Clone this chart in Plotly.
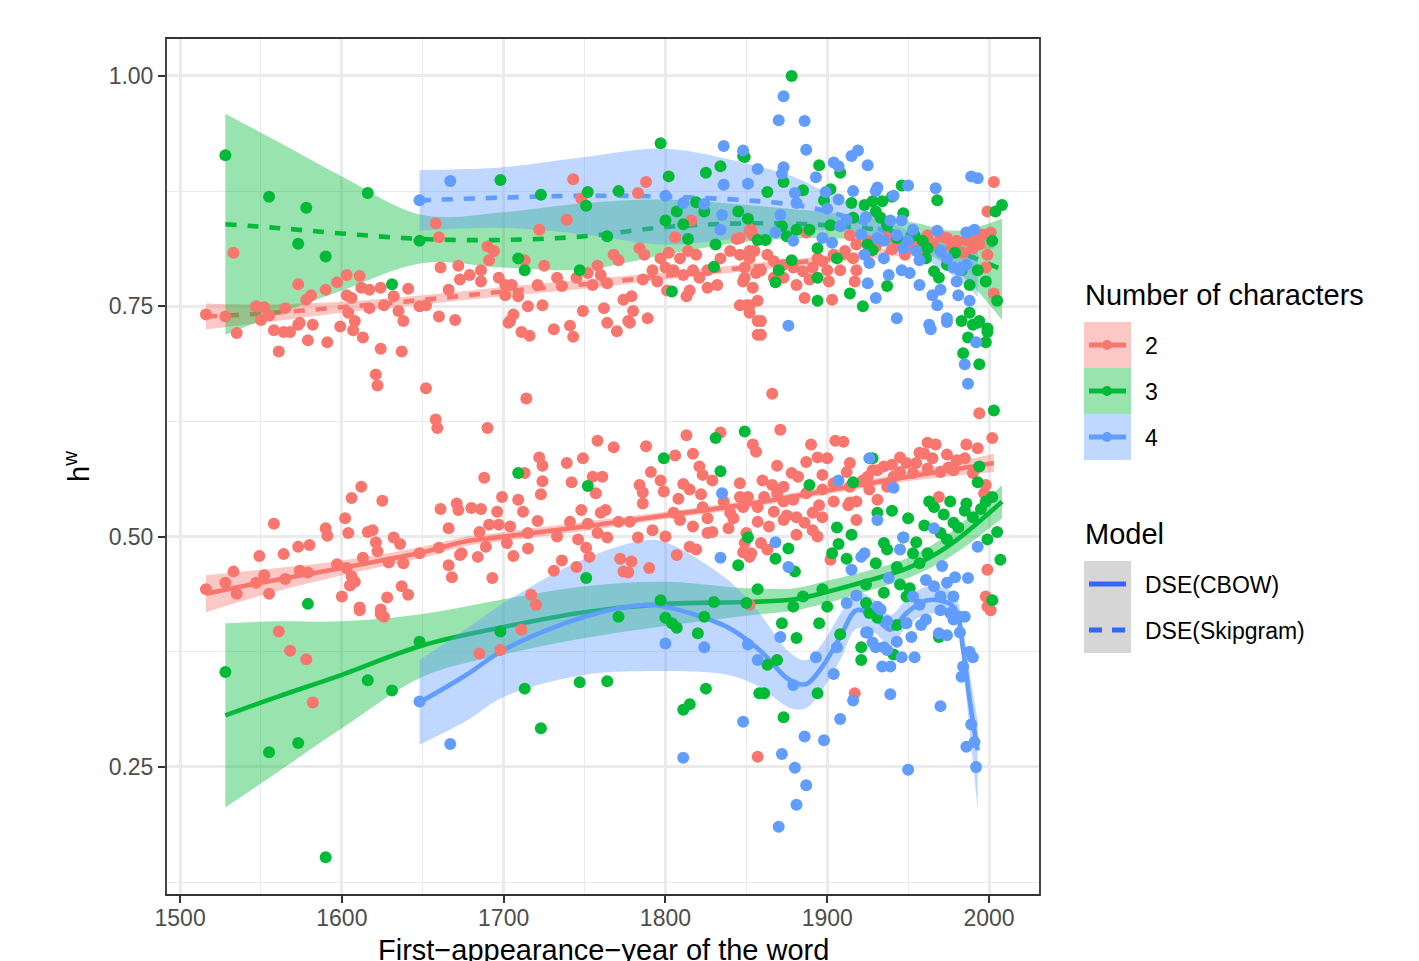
import plotly.graph_objects as go

# ---------------- data ----------------
# colour groups: Number of characters 2 (red), 3 (green), 4 (blue)
# points belonging to the DSE(Skipgram) cloud and DSE(CBOW) cloud

red_skip_year = [
    1516,1528,1533,1535,1547,1552,1550,1555,1558,1561,
    1564,1565,1568,1573,1573,1574,1578,1579,1581,1582,
    1590,1591,1597,1599,1603,1603,1604,1606,1607,1608,
    1611,1612,1613,1617,1617,1621,1622,1624,1624,1626,
    1632,1635,1637,1638,1641,1648,1652,1652,1658,1658,
    1659,1660,1660,1661,1666,1670,1672,1673,1679,1686,
    1686,1690,1691,1694,1697,1701,1701,1703,1704,1705,
    1706,1709,1711,1713,1715,1716,1721,1722,1724,1725,
    1731,1733,1736,1739,1741,1743,1743,1745,1748,1749,
    1752,1755,1758,1760,1762,1764,1764,1768,1770,1771,
    1774,1777,1778,1779,1780,1783,1784,1786,1787,1788,
    1789,1792,1795,1797,1800,1801,1802,1805,1806,1809,
    1811,1813,1814,1815,1816,1817,1819,1821,1826,1826,
    1832,1834,1840,1844,1846,1846,1846,1848,1849,1849,
    1850,1852,1852,1852,1852,1852,1853,1854,1854,1855,
    1856,1857,1857,1857,1859,1859,1859,1863,1866,1867,
    1867,1873,1873,1879,1881,1885,1886,1887,1889,1891,
    1894,1897,1900,1901,1903,1904,1908,1911,1914,1916,
    1917,1918,1918,1925,1930,1937,1940,1943,1948,1952,
    1957,1962,1965,1970,1974,1977,1980,1980,1984,1986,
    1990,1993,1994,1998,1999,1999,2001,2003,2003,1996,
    1988]
red_skip_h = [
    0.741,0.739,0.808,0.721,0.750,0.749,0.735,0.740,0.724,0.701,
    0.722,0.748,0.722,0.774,0.730,0.732,0.757,0.713,0.762,0.730,
    0.768,0.711,0.776,0.728,0.784,0.762,0.743,0.759,0.724,0.734,
    0.783,0.770,0.716,0.768,0.748,0.676,0.664,0.770,0.704,0.751,
    0.761,0.745,0.701,0.734,0.769,0.750,0.751,0.661,0.840,0.627,
    0.618,0.825,0.739,0.792,0.768,0.735,0.794,0.779,0.784,0.777,
    0.789,0.815,0.800,0.810,0.781,0.773,0.762,0.732,0.734,0.773,
    0.741,0.761,0.722,0.800,0.750,0.718,0.773,0.833,0.751,0.794,
    0.725,0.781,0.772,0.844,0.729,0.888,0.717,0.781,0.867,0.745,
    0.786,0.773,0.794,0.784,0.748,0.775,0.732,0.806,0.723,0.800,
    0.757,0.734,0.732,0.761,0.745,0.873,0.813,0.779,0.806,0.885,
    0.737,0.789,0.777,0.802,0.792,0.767,0.808,0.789,0.825,0.802,
    0.784,0.761,0.810,0.767,0.843,0.789,0.806,0.781,0.789,0.770,
    0.773,0.802,0.810,0.823,0.806,0.751,0.824,0.777,0.792,0.781,
    0.751,0.810,0.751,0.832,0.802,0.743,0.833,0.827,0.770,0.810,
    0.786,0.734,0.719,0.756,0.789,0.719,0.734,0.806,0.655,0.799,
    0.781,0.795,0.781,0.792,0.773,0.788,0.759,0.830,0.779,0.792,
    0.802,0.799,0.789,0.777,0.757,0.806,0.789,0.810,0.827,0.802,
    0.777,0.817,0.789,0.821,0.815,0.824,0.812,0.817,0.806,0.820,
    0.812,0.827,0.818,0.826,0.824,0.815,0.821,0.810,0.808,0.822,
    0.813,0.824,0.817,0.792,0.806,0.853,0.830,0.885,0.764,0.828,
    0.830]

red_cbow_year = [
    1516,1528,1533,1535,1547,1549,1552,1555,1558,1561,
    1564,1565,1568,1573,1574,1578,1579,1580,1582,1590,
    1591,1597,1600,1602,1603,1604,1605,1606,1606,1608,
    1611,1611,1612,1613,1616,1619,1621,1622,1624,1624,
    1625,1626,1628,1629,1632,1636,1637,1638,1641,1648,
    1660,1661,1666,1666,1668,1671,1672,1673,1674,1680,
    1684,1685,1685,1686,1688,1689,1690,1691,1693,1696,
    1697,1698,1699,1702,1704,1706,1709,1711,1712,1713,
    1714,1715,1715,1717,1720,1721,1722,1723,1724,1724,
    1731,1733,1736,1739,1741,1742,1745,1746,1748,1749,
    1751,1752,1753,1755,1757,1758,1758,1760,1761,1763,
    1764,1768,1771,1772,1774,1777,1778,1779,1783,1784,
    1786,1786,1788,1790,1791,1792,1797,1799,1800,1805,
    1806,1807,1808,1809,1811,1813,1815,1815,1817,1817,
    1819,1821,1822,1823,1823,1826,1826,1829,1829,1834,
    1836,1839,1840,1842,1846,1846,1848,1848,1849,1850,
    1850,1851,1852,1852,1853,1854,1856,1857,1857,1857,
    1859,1860,1861,1863,1864,1866,1867,1869,1869,1871,
    1873,1873,1873,1875,1878,1879,1881,1881,1882,1886,
    1887,1887,1890,1891,1891,1894,1894,1895,1897,1897,
    1897,1900,1902,1904,1904,1905,1910,1912,1913,1914,
    1914,1914,1917,1918,1918,1922,1925,1926,1931,1931,
    1935,1937,1941,1945,1949,1953,1957,1962,1962,1967,
    1969,1970,1974,1978,1980,1986,1990,1993,1994,1997,
    1998,1999,1998,1999,2001,2002,1945,1955,1965,1975,
    1985,1960,1940,1928]
red_cbow_h = [
    0.443,0.450,0.462,0.438,0.450,0.479,0.458,0.438,0.514,0.397,
    0.481,0.454,0.376,0.489,0.463,0.367,0.461,0.491,0.320,0.509,
    0.501,0.470,0.435,0.520,0.466,0.504,0.447,0.542,0.457,0.451,
    0.423,0.420,0.554,0.477,0.505,0.507,0.494,0.484,0.421,0.416,
    0.539,0.413,0.434,0.472,0.499,0.492,0.446,0.471,0.437,0.482,
    0.488,0.530,0.509,0.469,0.456,0.536,0.529,0.480,0.482,0.531,
    0.478,0.505,0.373,0.530,0.564,0.489,0.618,0.513,0.455,0.527,
    0.513,0.377,0.543,0.493,0.511,0.479,0.540,0.399,0.527,0.569,
    0.650,0.504,0.487,0.437,0.426,0.517,0.586,0.546,0.577,0.560,
    0.463,0.500,0.474,0.580,0.516,0.559,0.467,0.497,0.529,0.585,
    0.488,0.514,0.478,0.565,0.547,0.604,0.504,0.526,0.565,0.529,
    0.499,0.597,0.516,0.476,0.462,0.461,0.516,0.473,0.499,0.556,
    0.548,0.536,0.598,0.466,0.570,0.507,0.561,0.549,0.500,0.526,
    0.588,0.480,0.541,0.518,0.557,0.610,0.551,0.489,0.590,0.511,
    0.486,0.576,0.546,0.567,0.532,0.520,0.504,0.561,0.505,0.613,
    0.538,0.509,0.526,0.520,0.543,0.558,0.483,0.532,0.493,0.542,
    0.504,0.543,0.478,0.426,0.482,0.600,0.592,0.532,0.516,0.261,
    0.493,0.561,0.543,0.486,0.511,0.556,0.527,0.577,0.547,0.616,
    0.554,0.538,0.518,0.523,0.569,0.540,0.521,0.502,0.565,0.515,
    0.581,0.547,0.600,0.526,0.507,0.586,0.500,0.534,0.567,0.551,
    0.521,0.585,0.475,0.558,0.538,0.604,0.603,0.570,0.534,0.580,
    0.554,0.537,0.330,0.538,0.518,0.561,0.565,0.551,0.572,0.540,
    0.576,0.554,0.565,0.586,0.580,0.569,0.591,0.602,0.574,0.600,
    0.543,0.570,0.589,0.572,0.583,0.600,0.569,0.596,0.634,0.547,
    0.556,0.464,0.435,0.424,0.420,0.607,0.570,0.580,0.585,0.575,
    0.585,0.590,0.578,0.572]

green_skip_year = [
    1528,1555,1578,1616,1573,1590,1648,1631,1698,1797,
    1802,1723,1752,1751,1771,1825,1834,1849,1807,1800,
    1811,1819,1824,1814,1845,1851,1831,1857,1764,1709,
    1713,1747,1830,1804,1878,1848,1895,1908,1873,1885,
    1863,1902,1898,1915,1923,1928,1934,1940,1946,1968,
    1947,1872,1881,1889,1862,1875,1902,1916,1930,1933,
    1937,1925,1928,1943,1954,1959,1962,1961,1966,1969,
    1974,1979,1983,1988,1993,1998,2002,2004,2008,2005,
    1937,1914,1922,1894,1894,1906,1894,1878,1870,1868,
    1988,1983,1994,1990,1999,1993,1987,1998,1984,1994,
    1999]
green_skip_h = [
    0.914,0.869,0.857,0.873,0.818,0.804,0.821,0.774,0.887,0.927,
    0.891,0.871,0.874,0.859,0.875,0.895,0.902,0.912,0.853,0.843,
    0.839,0.863,0.853,0.823,0.853,0.845,0.817,0.822,0.826,0.802,
    0.789,0.789,0.793,0.766,1.000,0.913,0.903,0.895,0.885,0.876,
    0.874,0.877,0.865,0.862,0.860,0.864,0.864,0.869,0.881,0.865,
    0.851,0.837,0.833,0.833,0.822,0.826,0.838,0.846,0.853,0.846,
    0.838,0.817,0.811,0.824,0.827,0.821,0.813,0.802,0.788,0.781,
    0.795,0.808,0.789,0.773,0.789,0.777,0.821,0.853,0.860,0.756,
    0.772,0.764,0.750,0.781,0.756,0.802,0.813,0.800,0.789,0.776,
    0.743,0.734,0.734,0.730,0.726,0.732,0.716,0.711,0.699,0.687,
    0.722]

green_cbow_year = [
    1528,1555,1573,1590,1616,1631,1648,1579,1698,1771,
    1713,1723,1747,1764,1797,1800,1804,1807,1820,1824,
    1830,1825,1815,1811,1850,1858,1709,1752,1751,1799,
    1831,1849,1834,1851,1845,1857,1889,1916,1928,1931,
    1940,1906,1915,1907,1903,1912,1930,1876,1868,1880,
    1885,1897,1924,1935,1945,1951,1935,1937,1947,1955,
    1963,1966,1976,1986,1972,1978,1990,1998,2002,2005,
    2007,1994,1993,2003,1999,1970,1974,1962,1953,1957,
    1943,1924,1900,1879,1949,1872,1895,1881,1908,1869,
    1863,1861,1894,1873,1921,1921,1941,1943,1926,1931,
    1969,2002,1981,1960,1950,1985,1995]
green_cbow_h = [
    0.353,0.266,0.276,0.152,0.344,0.333,0.386,0.427,0.397,0.413,
    0.335,0.292,0.342,0.343,0.431,0.412,0.406,0.401,0.395,0.413,
    0.429,0.335,0.318,0.312,0.428,0.330,0.569,0.555,0.455,0.585,
    0.607,0.614,0.571,0.499,0.469,0.443,0.556,0.559,0.585,0.526,
    0.528,0.510,0.502,0.492,0.482,0.476,0.471,0.487,0.476,0.462,
    0.435,0.443,0.448,0.439,0.448,0.444,0.493,0.486,0.499,0.494,
    0.538,0.532,0.538,0.536,0.524,0.515,0.521,0.538,0.543,0.505,
    0.475,0.576,0.559,0.637,0.497,0.504,0.497,0.482,0.482,0.471,
    0.467,0.428,0.424,0.424,0.435,0.406,0.406,0.390,0.394,0.366,
    0.361,0.330,0.330,0.304,0.380,0.366,0.372,0.404,0.417,0.412,
    0.391,0.431,0.510,0.512,0.520,0.528,0.530]

blue_skip_year = [
    1667,1648,1836,1848,1857,1836,1851,1800,1811,1824,
    1835,1834,1873,1870,1886,1887,1873,1872,1893,1904,
    1907,1915,1919,1925,1880,1881,1899,1907,1916,1930,
    1931,1941,1950,1967,1989,1993,1871,1900,1868,1879,
    1897,1903,1908,1912,1924,1921,1931,1935,1939,1946,
    1943,1953,1968,1950,1947,1923,1926,1935,1938,1946,
    1951,1955,1957,1970,1974,1978,1982,1986,1986,1991,
    1965,1968,1974,1963,1943,1930,1925,1957,1970,1980,
    1988,1981,1876,1992,1985,1987,1964,1974]
blue_skip_h = [
    0.886,0.865,0.924,0.919,0.899,0.882,0.883,0.870,0.862,0.861,
    0.849,0.833,0.978,0.952,0.951,0.920,0.901,0.894,0.890,0.906,
    0.902,0.913,0.919,0.903,0.873,0.862,0.874,0.866,0.875,0.875,
    0.879,0.870,0.881,0.878,0.891,0.889,0.849,0.856,0.830,0.821,
    0.824,0.819,0.837,0.844,0.847,0.828,0.824,0.821,0.843,0.843,
    0.827,0.833,0.832,0.821,0.813,0.806,0.797,0.802,0.784,0.789,
    0.786,0.810,0.800,0.810,0.802,0.792,0.789,0.795,0.830,0.833,
    0.762,0.751,0.737,0.730,0.737,0.759,0.775,0.773,0.768,0.777,
    0.756,0.762,0.729,0.711,0.687,0.666,0.725,0.733]

blue_cbow_year = [
    1648,1667,1800,1824,1851,1857,1848,1811,1835,1834,
    1907,1926,1941,1931,1966,1947,1945,1993,1971,1987,
    1868,1876,1921,1923,1915,1938,1961,1966,1974,1979,
    1970,1978,1953,1957,1918,1912,1931,1933,1937,1925,
    1928,1935,1937,1934,1939,1946,1954,1943,1952,1949,
    1958,1961,1970,1976,1982,1985,1978,1969,1974,1982,
    1988,1990,1984,1983,1970,1989,1986,1991,1992,1950,
    1939,1916,1908,1898,1886,1872,1880,1887,1881,1870,
    1871,1879,1893,1904,1906,1924,1930]
blue_cbow_h = [
    0.321,0.275,0.384,0.380,0.383,0.366,0.299,0.260,0.547,0.477,
    0.561,0.585,0.553,0.518,0.509,0.499,0.486,0.489,0.468,0.455,
    0.494,0.467,0.478,0.482,0.464,0.455,0.453,0.446,0.450,0.456,
    0.435,0.435,0.435,0.426,0.436,0.428,0.424,0.421,0.408,0.396,
    0.385,0.380,0.377,0.359,0.359,0.369,0.369,0.386,0.391,0.406,
    0.404,0.410,0.420,0.417,0.413,0.413,0.410,0.395,0.393,0.396,
    0.375,0.369,0.359,0.348,0.316,0.296,0.272,0.277,0.250,0.247,
    0.329,0.322,0.302,0.279,0.283,0.264,0.249,0.230,0.209,0.185,
    0.391,0.339,0.369,0.351,0.380,0.396,0.380]

# smoothed fits with confidence band
red_cbow_fx = [1516,1550,1600,1650,1677,1700,1750,1800,1850,1900,1950,2003]
red_cbow_fit = [0.438,0.450,0.466,0.483,0.495,0.500,0.511,0.523,0.535,0.550,0.565,0.580]
red_cbow_lo = [0.418,0.436,0.458,0.477,0.490,0.495,0.506,0.519,0.531,0.546,0.560,0.570]
red_cbow_hi = [0.458,0.464,0.474,0.489,0.500,0.505,0.516,0.527,0.539,0.554,0.570,0.590]

red_skip_fx = [1516,1550,1600,1650,1700,1750,1800,1850,1900,1950,2003]
red_skip_fit = [0.739,0.742,0.749,0.757,0.766,0.774,0.783,0.792,0.801,0.811,0.822]
red_skip_lo = [0.725,0.732,0.743,0.752,0.761,0.769,0.779,0.788,0.797,0.806,0.813]
red_skip_hi = [0.753,0.752,0.755,0.762,0.771,0.779,0.787,0.796,0.805,0.816,0.831]

green_cbow_fx = [1528,1560,1600,1650,1700,1750,1800,1850,1880,1900,1925,1950,1975,2008]
green_cbow_fit = [0.306,0.326,0.350,0.382,0.402,0.418,0.427,0.429,0.432,0.440,0.452,0.466,0.490,0.538]
green_cbow_lo = [0.206,0.244,0.292,0.348,0.372,0.390,0.403,0.414,0.420,0.428,0.441,0.455,0.477,0.520]
green_cbow_hi = [0.406,0.408,0.408,0.416,0.432,0.446,0.451,0.444,0.444,0.452,0.463,0.477,0.503,0.556]

green_skip_fx = [1528,1560,1600,1650,1700,1750,1800,1850,1900,1950,1980,2008]
green_skip_fit = [0.839,0.835,0.829,0.823,0.822,0.826,0.836,0.840,0.838,0.828,0.810,0.790]
green_skip_lo = [0.719,0.741,0.767,0.797,0.792,0.790,0.806,0.820,0.824,0.814,0.788,0.735]
green_skip_hi = [0.959,0.929,0.891,0.849,0.852,0.862,0.866,0.860,0.852,0.842,0.832,0.845]

blue_cbow_fx = [1648,1677,1700,1750,1788,1800,1838,1858,1877,1887,1897,1908,1918,1928,1939,1949,1962,1978,1984,1988,1993]
blue_cbow_fit = [0.320,0.350,0.377,0.413,0.426,0.424,0.402,0.377,0.344,0.340,0.359,0.391,0.420,0.415,0.399,0.417,0.431,0.424,0.377,0.323,0.268]
blue_cbow_lo = [0.274,0.300,0.326,0.350,0.354,0.354,0.350,0.337,0.314,0.314,0.334,0.366,0.400,0.397,0.383,0.402,0.416,0.409,0.355,0.290,0.203]
blue_cbow_hi = [0.366,0.400,0.428,0.476,0.496,0.494,0.454,0.417,0.374,0.366,0.384,0.416,0.440,0.433,0.415,0.432,0.446,0.439,0.399,0.353,0.300]

blue_skip_fx = [1648,1700,1750,1800,1850,1880,1900,1920,1940,1960,1980,1993]
blue_skip_fit = [0.865,0.868,0.870,0.869,0.865,0.860,0.853,0.842,0.828,0.813,0.797,0.785]
blue_skip_lo = [0.832,0.835,0.828,0.817,0.825,0.830,0.833,0.827,0.816,0.801,0.781,0.760]
blue_skip_hi = [0.898,0.901,0.912,0.921,0.905,0.890,0.873,0.857,0.840,0.825,0.813,0.810]

x_ticks = [1500, 1600, 1700, 1800, 1900, 2000]
y_ticks = [0.25, 0.50, 0.75, 1.00]
y_tick_text = ["0.25", "0.50", "0.75", "1.00"]
legend_chars = ["2", "3", "4"]
legend_models = ["DSE(CBOW)", "DSE(Skipgram)"]

# ---------------- styling ----------------
RED, GREEN, BLUE = "#F8766D", "#00BA38", "#619CFF"
FILL = {RED: "rgba(248,118,109,0.4)", GREEN: "rgba(0,186,56,0.4)", BLUE: "rgba(97,156,255,0.4)"}
FONT = "Liberation Sans, Arial, Helvetica, sans-serif"
LW = 4.6
DASH = "11px,11px"

# page offset of the figure (default body margin of the html page)
OFF = 8
PAGE_W, PAGE_H = 1419, 961
W, H = PAGE_W - OFF, PAGE_H - OFF
# plot panel, in page pixels
L, R, T, B = 166, 1040, 38, 895

fig = go.Figure()


def add_smooth(xs, fit, lo, hi, color, dash):
    fig.add_trace(go.Scatter(x=xs, y=lo, mode="lines", line=dict(width=0, shape="spline"),
                             hoverinfo="skip", showlegend=False))
    fig.add_trace(go.Scatter(x=xs, y=hi, mode="lines", line=dict(width=0, shape="spline"),
                             fill="tonexty", fillcolor=FILL[color], hoverinfo="skip", showlegend=False))
    fig.add_trace(go.Scatter(x=xs, y=fit, mode="lines",
                             line=dict(width=LW, color=color, shape="spline", dash=dash),
                             hoverinfo="skip", showlegend=False))


add_smooth(red_cbow_fx, red_cbow_fit, red_cbow_lo, red_cbow_hi, RED, "solid")
add_smooth(red_skip_fx, red_skip_fit, red_skip_lo, red_skip_hi, RED, DASH)
add_smooth(green_cbow_fx, green_cbow_fit, green_cbow_lo, green_cbow_hi, GREEN, "solid")
add_smooth(green_skip_fx, green_skip_fit, green_skip_lo, green_skip_hi, GREEN, DASH)
add_smooth(blue_cbow_fx, blue_cbow_fit, blue_cbow_lo, blue_cbow_hi, BLUE, "solid")
add_smooth(blue_skip_fx, blue_skip_fit, blue_skip_lo, blue_skip_hi, BLUE, DASH)

MS = 12
for xs, ys, c in [(red_cbow_year, red_cbow_h, RED), (red_skip_year, red_skip_h, RED),
                  (green_cbow_year, green_cbow_h, GREEN), (green_skip_year, green_skip_h, GREEN),
                  (blue_cbow_year, blue_cbow_h, BLUE), (blue_skip_year, blue_skip_h, BLUE)]:
    fig.add_trace(go.Scatter(x=xs, y=ys, mode="markers",
                             marker=dict(size=MS, color=c, line=dict(width=0)),
                             showlegend=False))

# ---------------- manual legend (page pixel -> paper helpers) ----------------
def px(xp):
    return (xp - L) / (R - L)


def py(yp):
    return (B - yp) / (B - T)


shapes = []
annotations = []

annotations.append(dict(text="Number of characters", x=px(1083), y=py(295), xref="paper", yref="paper",
                        xanchor="left", yanchor="middle", showarrow=False,
                        font=dict(family=FONT, size=29, color="black")))
key_fills = ["#FCC8C5", "#99E3AF", "#C0D7FF"]
key_cols = [RED, GREEN, BLUE]
for i, lab in enumerate(legend_chars):
    y0 = 322 + 46 * i
    yc = y0 + 23
    shapes.append(dict(type="rect", xref="paper", yref="paper", x0=px(1084), x1=px(1131),
                       y0=py(y0 + 46), y1=py(y0), fillcolor=key_fills[i], line=dict(width=0), layer="above"))
    shapes.append(dict(type="line", xref="paper", yref="paper", x0=px(1089), x1=px(1126),
                       y0=py(yc), y1=py(yc), line=dict(color=key_cols[i], width=5), layer="above"))
    shapes.append(dict(type="circle", xref="paper", yref="paper", x0=px(1102), x1=px(1112),
                       y0=py(yc + 5), y1=py(yc - 5), fillcolor=key_cols[i], line=dict(width=0), layer="above"))
    annotations.append(dict(text=lab, x=px(1143), y=py(yc + 1), xref="paper", yref="paper",
                            xanchor="left", yanchor="middle", showarrow=False,
                            font=dict(family=FONT, size=23, color="black")))

annotations.append(dict(text="Model", x=px(1083), y=py(534), xref="paper", yref="paper",
                        xanchor="left", yanchor="middle", showarrow=False,
                        font=dict(family=FONT, size=29, color="black")))
shapes.append(dict(type="rect", xref="paper", yref="paper", x0=px(1084), x1=px(1131),
                   y0=py(653), y1=py(561), fillcolor="#D6D6D6", line=dict(width=0), layer="above"))
shapes.append(dict(type="line", xref="paper", yref="paper", x0=px(1089), x1=px(1126),
                   y0=py(584), y1=py(584), line=dict(color="#3366FF", width=5), layer="above"))
for a, b in [(1089, 1102), (1112, 1125)]:
    shapes.append(dict(type="line", xref="paper", yref="paper", x0=px(a), x1=px(b),
                       y0=py(630), y1=py(630), line=dict(color="#3366FF", width=5), layer="above"))
for lab, yc in zip(legend_models, [585, 631]):
    annotations.append(dict(text=lab, x=px(1143), y=py(yc), xref="paper", yref="paper",
                            xanchor="left", yanchor="middle", showarrow=False,
                            font=dict(family=FONT, size=23, color="black")))

# x-axis title (cut by the bottom edge, as in the reference)
annotations.append(dict(text="First\u2212appearance\u2212year of the word", x=0.5, y=py(932),
                        xref="paper", yref="paper", xanchor="center", yanchor="top", showarrow=False,
                        font=dict(family=FONT, size=29, color="black")))

# panel border
shapes.append(dict(type="rect", xref="paper", yref="paper", x0=0, x1=1, y0=0, y1=1,
                   line=dict(color="#333333", width=1.8), fillcolor="rgba(0,0,0,0)", layer="above"))

axis_common = dict(showgrid=True, gridcolor="#EBEBEB", gridwidth=2.8, zeroline=False,
                   showline=False, ticks="outside", ticklen=7, tickwidth=2, tickcolor="#333333",
                   tickfont=dict(family=FONT, size=23, color="#4D4D4D"), automargin=False)

fig.update_layout(
    width=W, height=H, template="none",
    margin=dict(l=L - OFF, r=PAGE_W - R, t=T - OFF, b=PAGE_H - B, autoexpand=False),
    paper_bgcolor="white", plot_bgcolor="white",
    showlegend=False,
    xaxis=dict(range=[1491.3, 2031.5], tickvals=x_ticks, ticklabelstandoff=-5,
               minor=dict(dtick=50, tick0=1500, showgrid=True, gridcolor="#EBEBEB", gridwidth=1.4, ticks=""),
               **axis_common),
    yaxis=dict(range=[0.111, 1.0412], tickvals=y_ticks, ticktext=y_tick_text,
               minor=dict(dtick=0.125, tick0=0.125, showgrid=True, gridcolor="#EBEBEB", gridwidth=1.4, ticks=""),
               title=dict(text="h<sup>w</sup>", standoff=10,
                          font=dict(family=FONT, size=29, color="black")),
               **axis_common),
    shapes=shapes, annotations=annotations,
)

fig.write_html("out.html")
